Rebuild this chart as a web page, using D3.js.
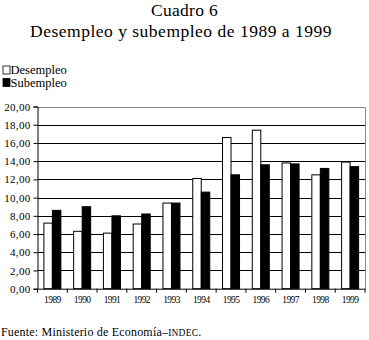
<!DOCTYPE html>
<html>
<head>
<meta charset="utf-8">
<script src="https://cdn.jsdelivr.net/npm/d3@7"></script>
<style>
  body { margin: 0; background: #fff; }
  svg { display: block; font-family: "Liberation Serif", "DejaVu Serif", serif; }
</style>
</head>
<body>
<svg id="chart" width="369" height="340"></svg>
<script>
// --- data ---
let years = ['1989', '1990', '1991', '1992', '1993', '1994', '1995', '1996', '1997', '1998', '1999']
let desempleo = [7.2, 6.3, 6.1, 7.1, 9.4, 12.1, 16.6, 17.4, 13.8, 12.5, 13.9]
let subempleo = [8.6, 9.0, 8.0, 8.2, 9.4, 10.6, 12.5, 13.6, 13.7, 13.2, 13.4]
let yTicks = [0, 2, 4, 6, 8, 10, 12, 14, 16, 18, 20]
let seriesNames = ['Desempleo', 'Subempleo']
let seriesFill = ['#fff', '#000']

let svg = d3.select('#chart')

// titles
svg.append('text').attr('x', 184.5).attr('y', 16)
    .attr('text-anchor', 'middle').attr('font-size', 17.5).attr('letter-spacing', 0.3).text('Cuadro 6')
svg.append('text').attr('x', 181).attr('y', 37)
    .attr('text-anchor', 'middle').attr('font-size', 17.5).attr('letter-spacing', 0.5)
    .text('Desempleo y subempleo de 1989 a 1999')

// legend
seriesNames.forEach(function (name, i) {
    let ly = 66 + i * 12.5
    svg.append('rect').attr('x', 3).attr('y', ly).attr('width', 7).attr('height', 8)
        .attr('fill', seriesFill[i]).attr('stroke', '#000').attr('stroke-width', 0.8)
    svg.append('text').attr('x', 10.5).attr('y', ly + 8).attr('font-size', 12.5).text(name)
})

// --- plot area ---
let plotLeft = 37.5, plotRight = 365, plotTop = 106.5, plotBottom = 288.7

let x = d3.scaleBand().domain(years).range([plotLeft, plotRight]).paddingInner(0).paddingOuter(0)
let y = d3.scaleLinear().domain([0, 20]).range([plotBottom, plotTop])

// gridlines
svg.append('g').selectAll('line')
    .data(yTicks.filter(function (t) { return t > 0 && t < 20 }))
    .enter().append('line')
    .attr('x1', plotLeft).attr('x2', plotRight)
    .attr('y1', function (d) { return Math.round(y(d)) + 0.5 })
    .attr('y2', function (d) { return Math.round(y(d)) + 0.5 })
    .attr('stroke', '#000').attr('stroke-width', 1)

// plot border (top + right, gray)
svg.append('path')
    .attr('d', 'M' + plotLeft + ',' + (Math.round(plotTop) + 0.5) + 'H' + (plotRight + 0.5) + 'V' + plotBottom)
    .attr('fill', 'none').attr('stroke', '#888').attr('stroke-width', 1)

// bars
let barW = x.bandwidth() / 3.5
let gap = (x.bandwidth() - 2 * barW) / 2
let series = [desempleo, subempleo]
series.forEach(function (vals, s) {
    svg.append('g').selectAll('rect')
        .data(vals)
        .enter().append('rect')
        .attr('x', function (d, i) { return x(years[i]) + gap + s * barW })
        .attr('y', function (d) { return y(d) })
        .attr('width', barW)
        .attr('height', function (d) { return plotBottom - y(d) })
        .attr('fill', seriesFill[s])
        .attr('stroke', '#000').attr('stroke-width', 1)
})

// y axis
let yAxis = d3.axisLeft(y).tickValues(yTicks).tickSize(4).tickPadding(3)
    .tickFormat(function (d) { return d3.format('.2f')(d).replace('.', ',') })
let yg = svg.append('g').attr('transform', 'translate(' + plotLeft + ',0)').call(yAxis)
yg.select('.domain').attr('stroke', '#000')
yg.selectAll('text').attr('font-family', '"Liberation Serif", serif').attr('font-size', 11)
    .attr('letter-spacing', 0.3).attr('fill', '#000')

// x axis
let xAxis = d3.axisBottom(x).tickSize(0).tickPadding(8)
let xg = svg.append('g').attr('transform', 'translate(0,' + plotBottom + ')').call(xAxis)
xg.select('.domain').attr('stroke', '#000')
xg.selectAll('text').attr('font-family', '"Liberation Serif", serif').attr('font-size', 9.5)
    .attr('letter-spacing', -0.6).attr('fill', '#000')
// ticks at category boundaries
xg.append('g').selectAll('line')
    .data(years.concat(['end']))
    .enter().append('line')
    .attr('x1', function (d, i) { return plotLeft + i * x.step() })
    .attr('x2', function (d, i) { return plotLeft + i * x.step() })
    .attr('y1', 0).attr('y2', 4)
    .attr('stroke', '#000')

// source
let src = svg.append('text').attr('x', 1).attr('y', 336).attr('font-size', 12).attr('letter-spacing', 0.2)
src.append('tspan').text('Fuente: Ministerio de Econom\u00eda\u2013')
src.append('tspan').attr('font-size', 9.5).text('INDEC')
src.append('tspan').text('.')
</script>
</body>
</html>
